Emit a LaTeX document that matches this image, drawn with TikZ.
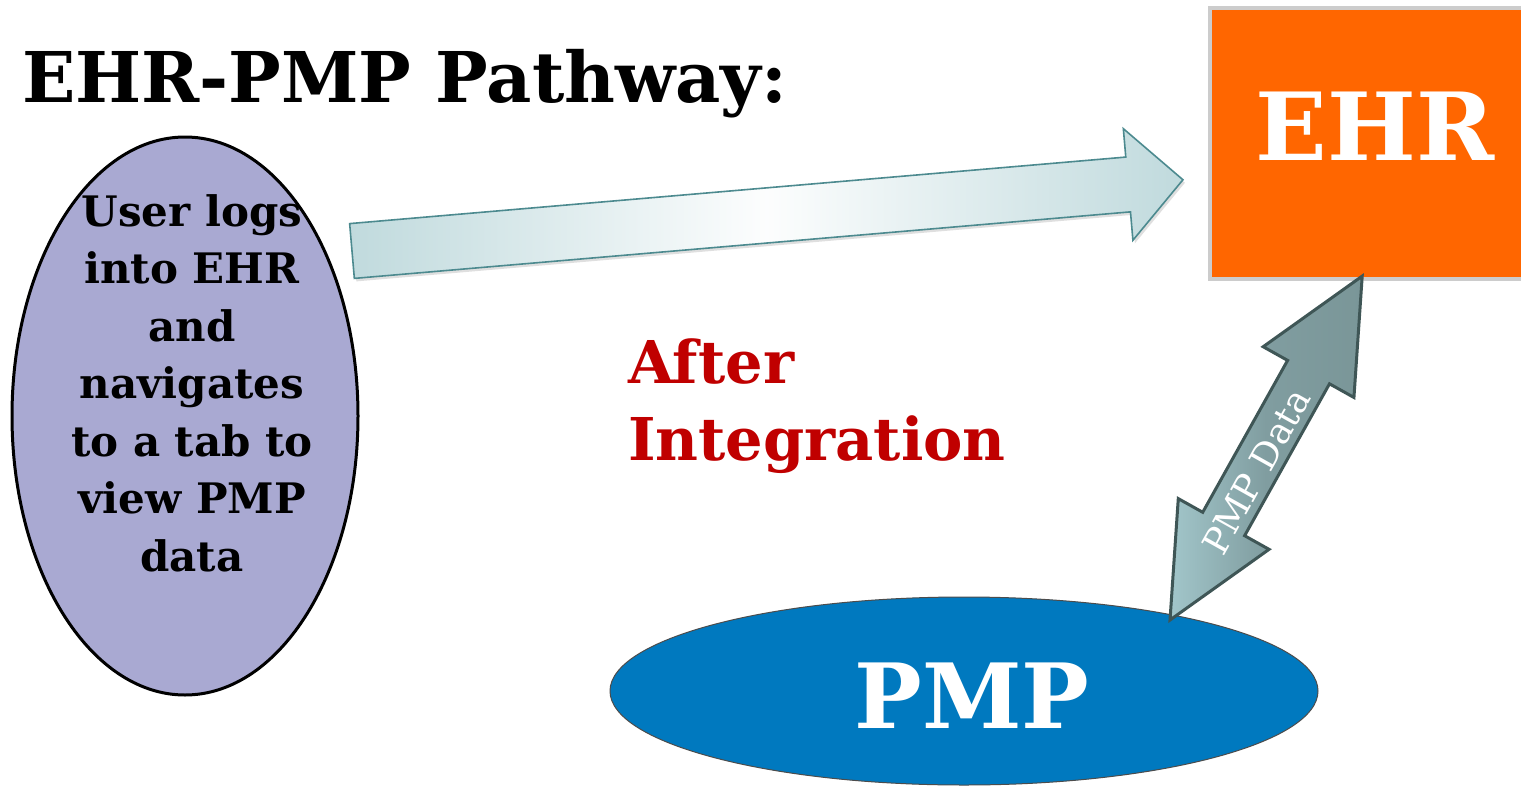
\documentclass[tikz,border=0pt]{standalone}
\usepackage{fontspec}
\setmainfont{DejaVu Serif}
\usetikzlibrary{shapes.geometric,shadows}
\definecolor{userfill}{HTML}{A9A9D2}
\definecolor{ehrorange}{HTML}{FF6600}
\definecolor{pmpblue}{HTML}{0079BF}
\definecolor{afterred}{HTML}{C00000}
\definecolor{arrowend}{HTML}{C0DADD}
\definecolor{arrowline}{HTML}{4C8A8F}
\definecolor{dataline}{HTML}{3F5656}
\definecolor{datalight}{HTML}{A2C6CA}
\definecolor{datamid}{HTML}{809DA0}
\definecolor{datadark}{HTML}{7A9698}
\begin{document}
\begin{tikzpicture}[x=0.5pt,y=-0.5pt,
    bigarrow/.style={draw=arrowline,line width=0.8pt,left color=arrowend,right color=arrowend,middle color=white!96!arrowend,
      drop shadow={shadow xshift=1pt,shadow yshift=-1.5pt,opacity=0.25}},
    dataarrow/.style={draw=dataline,line width=1.5pt,left color=datalight,right color=datadark,middle color=datamid},
    boldtext/.style={font=\fontsize{#1}{#1}\selectfont\bfseries}]
  \useasboundingbox[fill=white] (0,0) rectangle (1521,787);
  \node[anchor=base west,boldtext=35pt] (title) at (15,102) {EHR-PMP Pathway:};
  \node[ellipse,draw,line width=1.5pt,fill=userfill,minimum width=173pt,minimum height=279pt] (user) at (185,416) {};
  \node[align=center,font=\fontsize{21}{28.75}\selectfont\bfseries] (usertext) at (192,383) {User logs\\into EHR\\and\\navigates\\to a tab to\\view PMP\\data};
  \node[rectangle,draw=gray!40,line width=2pt,fill=ehrorange,minimum width=162.5pt,minimum height=135.5pt] (ehr) at (1372.5,143.5) {};
  \node[anchor=base,text=white,boldtext=47pt] (ehrtext) at (1375,160) {EHR};
  \node[ellipse,draw=black!70,line width=0.5pt,fill=pmpblue,minimum width=354pt,minimum height=94pt] (pmp) at (964,691) {};
  \node[anchor=base,text=white,boldtext=45pt] (pmptext) at (972,728) {PMP};
  \node[anchor=base west,align=left,text=afterred,font=\fontsize{29.5}{38.5}\selectfont\bfseries] (after) at (621,460) {After\\Integration};
  % user to EHR
  \begin{scope}[shift={(352,251)},rotate=4.9]
    \draw[bigarrow] (0,-27.5) -- (779,-27.5) -- (779,-56) -- (834,0) -- (779,56) -- (779,27.5) -- (0,27.5) -- cycle;
  \end{scope}
  % PMP data both ways
  \begin{scope}[shift={(1170,620)},rotate=60.8]
    \draw[dataarrow] (0,0) -- (110,-52) -- (110,-24) -- (284,-24) -- (284,-52) -- (394,0)
      -- (284,52) -- (284,24) -- (110,24) -- (110,52) -- cycle;
    \node[rotate=60.8,text=white,font=\fontsize{18}{18}\selectfont] (datalabel) at (172,3) {PMP Data};
  \end{scope}
\end{tikzpicture}
\end{document}
